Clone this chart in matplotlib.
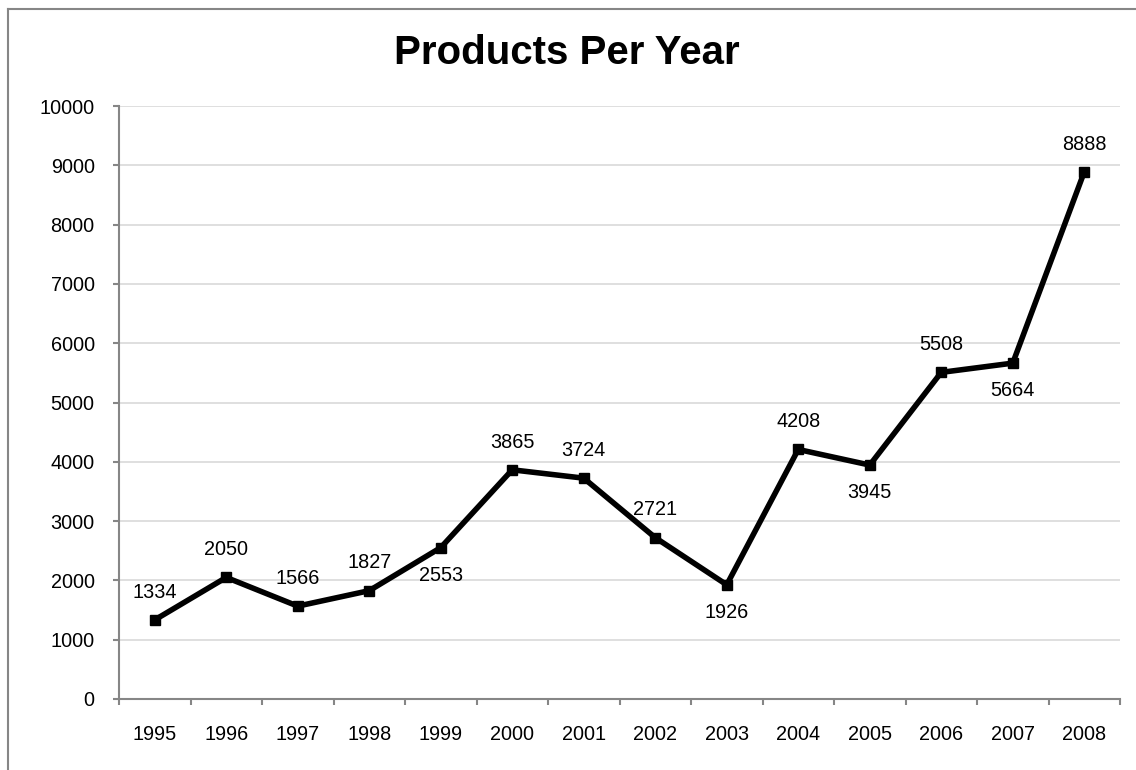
import matplotlib.pyplot as plt
from matplotlib.lines import Line2D

plt.rcParams['font.family'] = ['Liberation Sans', 'DejaVu Sans']

years = ['1995', '1996', '1997', '1998', '1999', '2000', '2001',
         '2002', '2003', '2004', '2005', '2006', '2007', '2008']
products = [1334, 2050, 1566, 1827, 2553, 3865, 3724,
            2721, 1926, 4208, 3945, 5508, 5664, 8888]
# label above (+1) or below (-1) the point
label_side = [1, 1, 1, 1, -1, 1, 1, 1, -1, 1, -1, 1, -1, 1]

fig = plt.figure(figsize=(11.36, 7.7), dpi=100)
ax = fig.add_axes([119 / 1136, 1 - 699 / 770, (1120 - 119) / 1136, (699 - 106) / 770])

# chart-area border (clipped at right and bottom, as in the source)
gris = '#868686'
fig.add_artist(Line2D([8 / 1136, 8 / 1136], [0, 1 - 9 / 770], color=gris, lw=1.5))
fig.add_artist(Line2D([8 / 1136, 1], [1 - 9 / 770, 1 - 9 / 770], color=gris, lw=1.5))

x = list(range(len(years)))
ax.plot(x, products, color='black', lw=4, marker='s', markersize=7.5, zorder=3)

for xi, v, s in zip(x, products, label_side):
    ax.annotate(str(v), (xi, v), xytext=(0, 20 * s), textcoords='offset points',
                ha='center', va='center', fontsize=14.3)

ax.set_xlim(-0.5, len(years) - 0.5)
ax.set_ylim(0, 10000)
ax.set_yticks(range(0, 10001, 1000))
ax.set_xticks(x)
ax.set_xticklabels(years)
ax.set_xticks([i - 0.5 for i in range(len(years) + 1)], minor=True)

ax.grid(axis='y', color='#d9d9d9', lw=1.2)
ax.set_axisbelow(True)
for side in ['top', 'right']:
    ax.spines[side].set_visible(False)
for side in ['left', 'bottom']:
    ax.spines[side].set_color(gris)
    ax.spines[side].set_linewidth(1.5)

ax.tick_params(axis='y', which='major', length=4.5, width=1.5, color=gris, pad=13, labelsize=14.3)
ax.tick_params(axis='x', which='major', length=0, pad=18.5, labelsize=14.3)
ax.tick_params(axis='x', which='minor', length=4.5, width=1.5, color=gris)

fig.text(567 / 1136, 1 - 53 / 770, 'Products Per Year',
         ha='center', va='center', fontsize=29, fontweight='bold')

fig.savefig('out.png', dpi=100)
